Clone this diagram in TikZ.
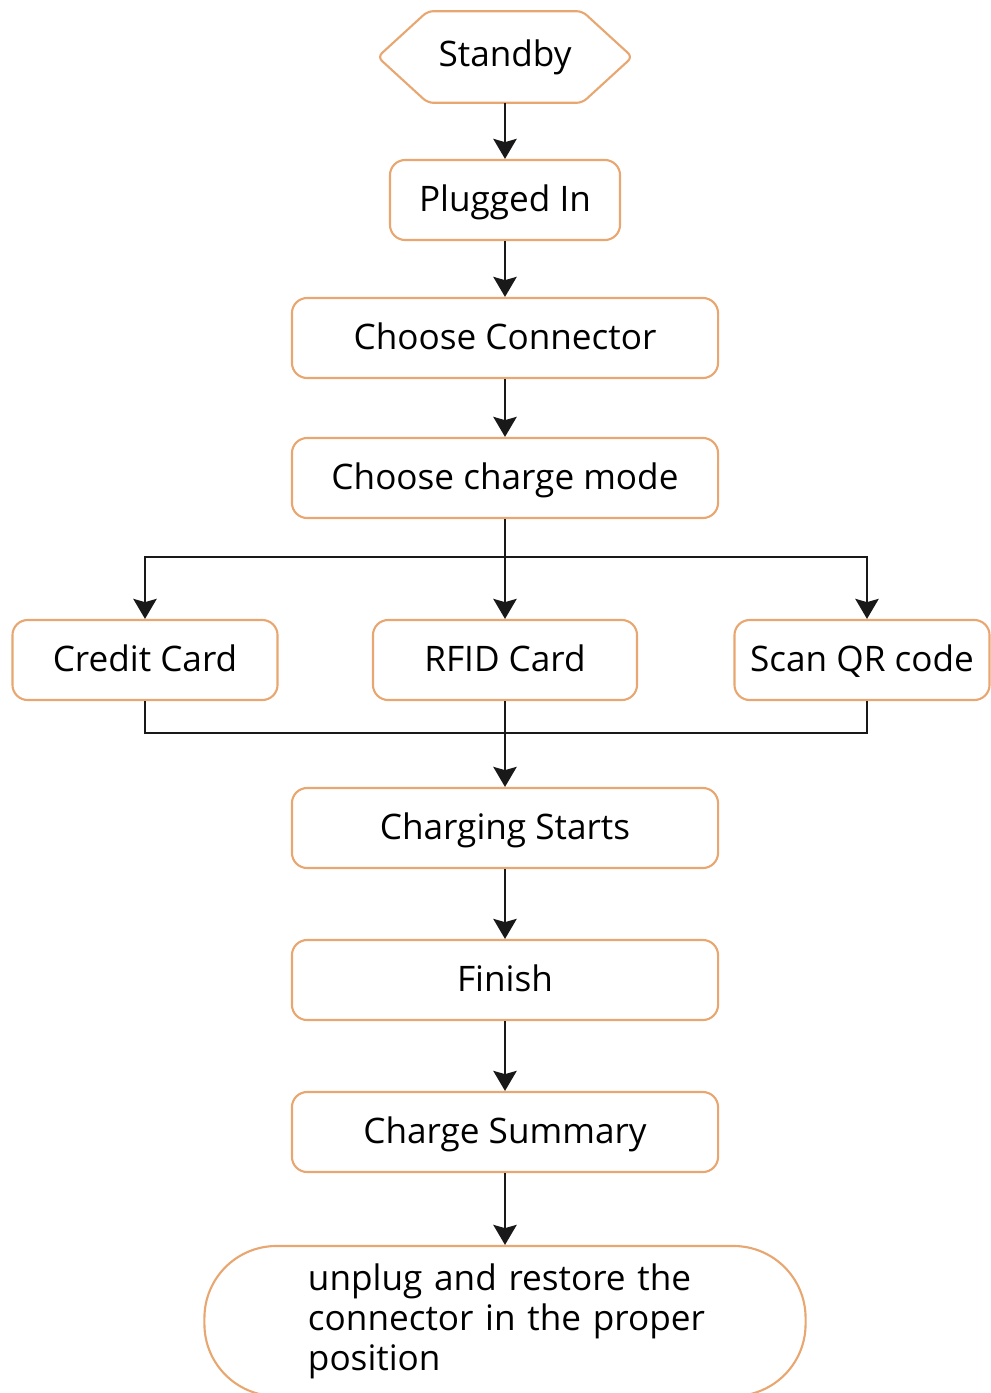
\documentclass[tikz,border=0pt]{standalone}
\usepackage{fontspec}
\setmainfont{Open Sans}
\usetikzlibrary{arrows.meta}
\definecolor{boxorange}{RGB}{232,166,112}
\definecolor{linegray}{RGB}{25,25,25}

\begin{document}
\begin{tikzpicture}[x=0.025cm,y=-0.025cm,
        >={Stealth[length=0.5cm,width=0.58cm,inset=0.08cm]},
        flow/.style={draw=linegray, line width=2pt},
        stepbox/.style={draw=boxorange, line width=1.5pt, rounded corners=0.38cm,
                minimum height=2cm, inner sep=0pt, text height=22pt, text depth=5pt,
                font=\fontsize{25}{28}\selectfont},
        widebox/.style={stepbox, minimum width=10.65cm}]
        \useasboundingbox (0,0) rectangle (991,1393);
        % start
        \node[font=\fontsize{25}{28}\selectfont, minimum width=6.35cm, minimum height=2.275cm, inner sep=0pt] (standby) at (505,57) {Standby};
        \draw[boxorange, line width=1.5pt, rounded corners=4pt] (standby.west) -- ([xshift=1.25cm]standby.north west) -- ([xshift=-1.25cm]standby.north east) -- (standby.east) -- ([xshift=-1.25cm]standby.south east) -- ([xshift=1.25cm]standby.south west) -- cycle;
        \node[stepbox, minimum width=5.75cm] (plugged) at (505,200) {Plugged In};
        \node[widebox] (connector) at (505,338) {Choose Connector};
        \node[widebox] (mode) at (505,478) {Choose charge mode};
        % payment
        \node[stepbox, minimum width=6.625cm] (credit) at (145,660) {Credit Card};
        \node[stepbox, minimum width=6.6cm] (rfid) at (505,660) {RFID Card};
        \node[stepbox, minimum width=6.375cm] (qr) at (862,660) {Scan QR code};
        \coordinate (split) at (505,557);
        \coordinate (merge) at (505,733);
        % charging
        \node[widebox] (starts) at (505,828) {Charging Starts};
        \node[widebox] (finish) at (505,980) {Finish};
        \node[widebox] (summary) at (505,1132) {Charge Summary};
        \node[draw=boxorange, line width=1.5pt, rounded corners=1.8cm, minimum width=15.025cm, minimum height=3.75cm,
                inner xsep=2.575cm, inner ysep=0pt, text width=9.85cm, align=left,
                font=\fontsize{25}{28.5}\selectfont] (unplug) at (505,1321) {unplug and restore the\\\mbox{connector in the proper}\\position};
        % arrows
        \draw[flow,->] (standby) -- (plugged);
        \draw[flow,->] (plugged) -- (connector);
        \draw[flow,->] (connector) -- (mode);
        \draw[flow,->] (mode) -- (rfid);
        \draw[flow,->] (split) -| (credit.north);
        \draw[flow,->] (split) -| ([xshift=0.125cm]qr.north);
        \draw[flow] (credit.south) |- (merge);
        \draw[flow] ([xshift=0.125cm]qr.south) |- (merge);
        \draw[flow,->] (rfid) -- (starts);
        \draw[flow,->] (starts) -- (finish);
        \draw[flow,->] (finish) -- (summary);
        \draw[flow,->] (summary) -- (unplug);
\end{tikzpicture}
\end{document}
